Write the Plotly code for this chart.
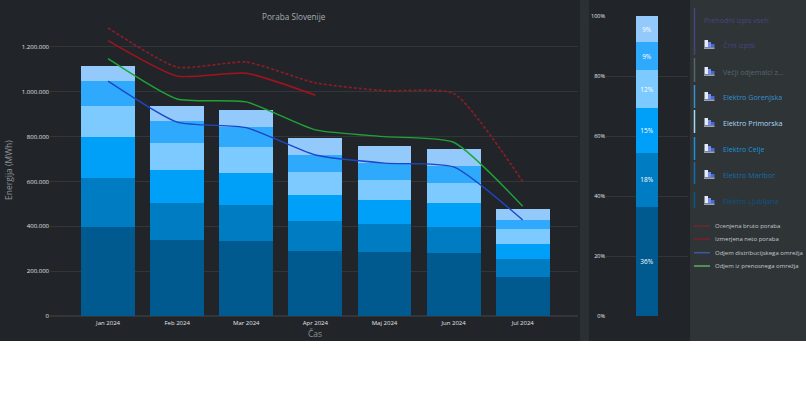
import plotly.graph_objects as go

W, H = 806, 404
FONT = "Open Sans"

months = ["Jan 2024", "Feb 2024", "Mar 2024", "Apr 2024", "Maj 2024", "Jun 2024", "Jul 2024"]

ljubljana = [398000, 337000, 335000, 290000, 284000, 280000, 175000]
maribor = [218000, 167000, 162000, 135000, 125000, 118000, 78000]
celje = [182000, 149000, 141000, 117000, 108000, 106000, 68000]
primorska = [139000, 120000, 114000, 100000, 90000, 91000, 66000]
gorenjska = [111000, 95000, 89000, 74000, 75000, 74000, 41000]
veliki = [67000, 69000, 78000, 80000, 76000, 76000, 48000]

neto = [1228000, 1070000, 1083000, 985000, None, None, None]
bruto = [1285000, 1110000, 1133000, 1040000, 1005000, 993000, 600000]
distribucija = [1048000, 865000, 840000, 718000, 682000, 665000, 428000]
prenos = [1148000, 968000, 955000, 830000, 800000, 775000, 490000]

share_labels = ["36%", "18%", "15%", "12%", "9%", "9%"]
share_values = [36.4, 18.0, 15.0, 12.5, 9.3, 8.8]

stack_names = ["Elektro Ljubljana", "Elektro Maribor", "Elektro Celje",
               "Elektro Primorska", "Elektro Gorenjska", "Večji odjemalci"]
stack_series = [ljubljana, maribor, celje, primorska, gorenjska, veliki]
stack_colors = ["#005a8f", "#007cc3", "#00a0f8", "#7ccaff", "#2fa9fb", "#93c9fb"]

legend_items = ["Prehodni izpis vseh", "Črni izpisi", "Večji odjemalci z...", "Elektro Gorenjska",
                "Elektro Primorska", "Elektro Celje", "Elektro Maribor", "Elektro Ljubljana"]
legend_colors = ["#46467e", "#46467e", "#56666e", "#3590cf", "#a5d8f5", "#1793dc", "#0f6fae", "#0c5587"]
legend_bars = [(8, 32), (32, 55), (58, 82), (85, 108), (110, 133), (137, 160), (162, 184), (192, 208)]
legend_ys = [20, 45, 72, 97, 123, 149, 175, 201]
line_names = ["Ocenjena bruto poraba", "Izmerjena neto poraba",
              "Odjem distribucijskega omrežja", "Odjem iz prenosnega omrežja"]
line_legend_colors = ["#6e2730", "#7a1f2a", "#3c5aa5", "#5fae62"]
line_legend_ys = [226, 239, 252.7, 266]

def fx(x):
    return x / W

def fy(y):
    return 1 - y / H

fig = go.Figure()

for name, vals, col in zip(stack_names, stack_series, stack_colors):
    fig.add_trace(go.Bar(x=months, y=vals, name=name, marker=dict(color=col, line_width=0),
                         width=0.78, xaxis="x", yaxis="y"))

for name, vals, col, dash, lw in [
    (line_names[0], bruto, "#8c1c26", "3px,2px", 1.7),
    (line_names[1], neto, "#a5121d", "solid", 1.5),
    (line_names[2], distribucija, "#1b48c8", "solid", 1.4),
    (line_names[3], prenos, "#1fa336", "solid", 1.4),
]:
    fig.add_trace(go.Scatter(x=months, y=vals, name=name, mode="lines",
                             line=dict(color=col, width=lw, dash=dash, shape="spline", smoothing=0.55),
                             connectgaps=False, xaxis="x", yaxis="y"))

for lab, val, col in zip(share_labels, share_values, stack_colors):
    fig.add_trace(go.Bar(x=["Skupaj"], y=[val], marker=dict(color=col, line_width=0), width=0.28,
                         text=[lab], textposition="inside", insidetextanchor="middle",
                         textangle=0, textfont=dict(color="#ffffff", size=6.5, family=FONT),
                         xaxis="x2", yaxis="y2"))

shapes = [
    dict(type="rect", xref="paper", yref="paper", x0=0, x1=fx(W), y0=fy(341), y1=1,
         fillcolor="#212529", line_width=0, layer="below"),
    dict(type="rect", xref="paper", yref="paper", x0=fx(580), x1=fx(589), y0=fy(341), y1=1,
         fillcolor="#2b3034", line_width=0, layer="below"),
    dict(type="rect", xref="paper", yref="paper", x0=fx(690), x1=1, y0=fy(341), y1=1,
         fillcolor="#2f3437", line_width=0, layer="below"),
]
annotations = []

for (y0, y1), col in zip(legend_bars, legend_colors):
    shapes.append(dict(type="line", xref="paper", yref="paper", x0=fx(694.5), x1=fx(694.5),
                       y0=fy(y0), y1=fy(y1), line=dict(color=col, width=1.5)))

for i, (label, col, y) in enumerate(zip(legend_items, legend_colors, legend_ys)):
    x_text = 702 if i == 0 else 721
    annotations.append(dict(text=label, xref="paper", yref="paper", x=fx(x_text), y=fy(y),
                            xanchor="left", yanchor="middle", showarrow=False,
                            font=dict(color=col, size=7.2, family=FONT)))
    if i > 0:
        for x0, x1, y0, y1, c in [
            (704.5, 708, y - 5, y + 2, "#e4ebff"),
            (708, 711, y - 3, y + 2, "#6f8cf0"),
            (711, 714.5, y - 1, y + 2, "#4a68d8"),
            (704, 714.5, y + 2.5, y + 3.7, "#c9d3ea"),
        ]:
            shapes.append(dict(type="rect", xref="paper", yref="paper", x0=fx(x0), x1=fx(x1),
                               y0=fy(y0), y1=fy(y1), fillcolor=c, line_width=0))

for label, col, y in zip(line_names, line_legend_colors, line_legend_ys):
    shapes.append(dict(type="line", xref="paper", yref="paper", x0=fx(694), x1=fx(710),
                       y0=fy(y), y1=fy(y), line=dict(color=col, width=1.5)))
    annotations.append(dict(text=label, xref="paper", yref="paper", x=fx(713), y=fy(y),
                            xanchor="left", yanchor="middle", showarrow=False,
                            font=dict(color="#c4c8cc", size=6, family=FONT)))

annotations.append(dict(text="Poraba Slovenije", xref="paper", yref="paper", x=fx(294), y=fy(16),
                        xanchor="center", yanchor="middle", showarrow=False,
                        font=dict(color="#a8acb0", size=8.2, family=FONT)))
annotations.append(dict(text="Energija (MWh)", xref="paper", yref="paper", x=fx(9), y=fy(170),
                        xanchor="center", yanchor="middle", showarrow=False, textangle=-90,
                        font=dict(color="#8f9397", size=8.5, family=FONT)))
annotations.append(dict(text="Čas", xref="paper", yref="paper", x=fx(315), y=fy(333),
                        xanchor="center", yanchor="middle", showarrow=False,
                        font=dict(color="#8f9397", size=8.5, family=FONT)))

grid = "rgba(255,255,255,0.08)"
tickfont = dict(color="#e2e4e6", size=6, family=FONT)

fig.update_layout(
    width=W, height=H, margin=dict(l=0, r=0, t=0, b=0, pad=0, autoexpand=False),
    paper_bgcolor="#ffffff", plot_bgcolor="rgba(0,0,0,0)",
    barmode="stack", bargap=0.22, showlegend=False, separators=",.",
    shapes=shapes, annotations=annotations,
    xaxis=dict(domain=[fx(50), fx(578)], range=[-0.84, 6.8], type="category",
               categoryorder="array", categoryarray=months, automargin=False,
               showgrid=False, zeroline=False, showline=False, ticks="",
               tickfont=tickfont, ticklabelstandoff=2),
    yaxis=dict(domain=[fy(316), fy(10)], range=[0, 1365000], tickvals=[0, 200000, 400000, 600000, 800000, 1000000, 1200000],
               tickformat=",d", showgrid=True, gridcolor=grid, gridwidth=1, zeroline=True, automargin=False,
               zerolinecolor=grid, showline=False, ticks="", tickfont=tickfont),
    xaxis2=dict(domain=[fx(606), fx(688)], anchor="y2", range=[-0.5, 0.5], type="category", automargin=False,
                showticklabels=False, showgrid=False, zeroline=False, showline=False, ticks=""),
    yaxis2=dict(domain=[fy(316), fy(16)], anchor="x2", range=[0, 100], tickvals=[0, 20, 40, 60, 80, 100],
                ticktext=["0%", "20%", "40%", "60%", "80%", "100%"], showgrid=True, gridcolor=grid, automargin=False,
                zeroline=False, showline=False, ticks="", tickfont=dict(color="#e6e8ea", size=5.5, family=FONT)),
)

fig.write_html("out.html", config={"displayModeBar": False},
               post_script="document.body.style.margin='0';document.body.style.overflow='hidden';")
